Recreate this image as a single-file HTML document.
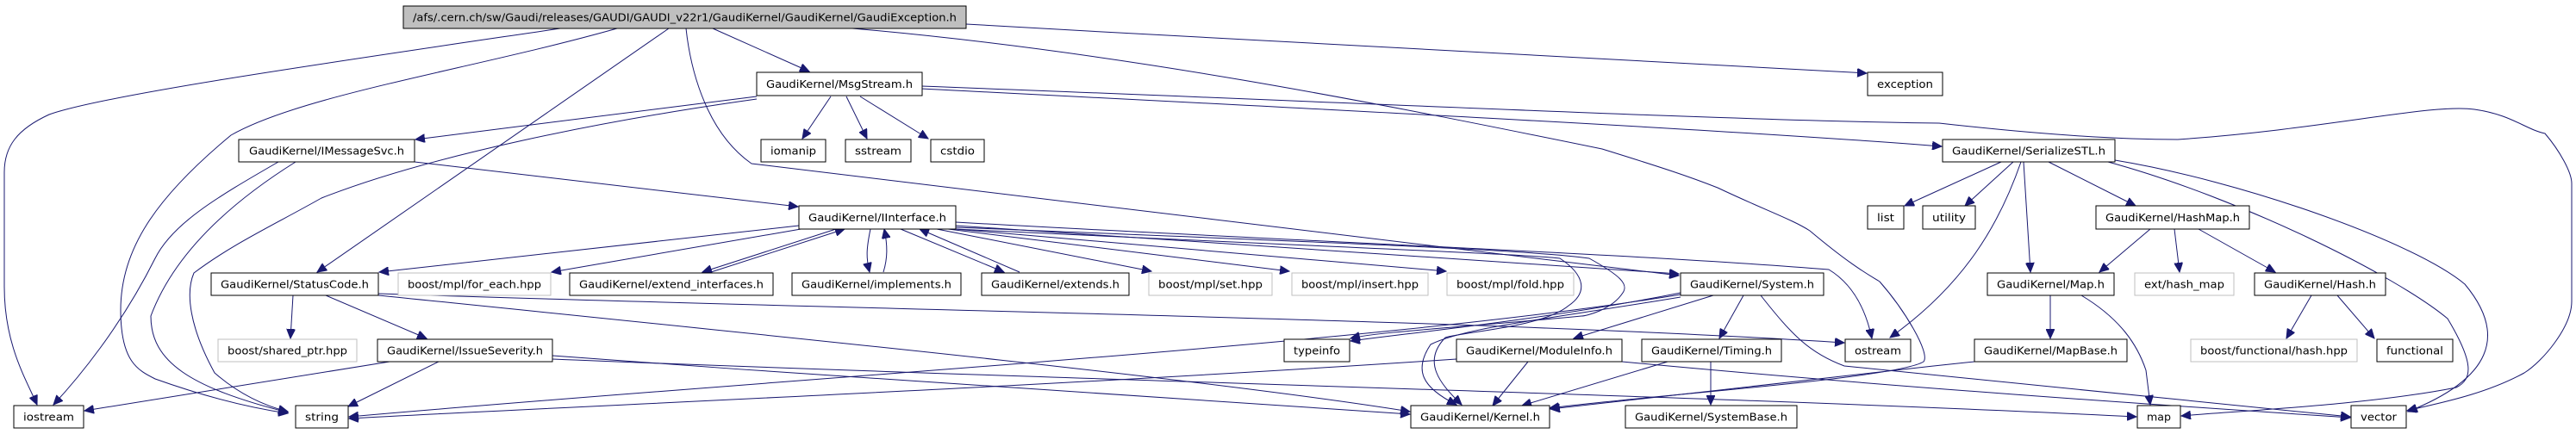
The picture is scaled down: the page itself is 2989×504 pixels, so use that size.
<!DOCTYPE html>
<html><head><meta charset="utf-8"><style>
html,body{margin:0;padding:0;background:#fff;}
svg{display:block;}
text{font-family:"DejaVu Sans","Liberation Sans",sans-serif;font-size:12px;fill:#000;}
.e{fill:none;stroke:#191970;stroke-width:1;}
.n{fill:#fff;stroke:#000;stroke-width:1;}
.g{fill:#fff;stroke:#bfbfbf;stroke-width:1;}
</style></head><body>
<svg width="2989" height="504" viewBox="0 0 2989 504" xmlns="http://www.w3.org/2000/svg">
<defs>
<marker id="a" markerUnits="userSpaceOnUse" markerWidth="12" markerHeight="10" refX="11" refY="5" orient="auto">
<path d="M0,0 L11,5 L0,10 Z" fill="#191970" stroke="#191970"/>
</marker>
</defs>
<g marker-end="url(#a)">
<!-- root edges -->
<path class="e" d="M650,33 C400,70 120,110 57,133 C20,150 5,170 5,200 L5,333 C5,400 30,440 43,470"/>
<path class="e" d="M716,33 C550,80 350,110 268,157 C180,230 140,290 140,360 C140,420 160,430 180,440 C250,465 300,475 334,480"/>
<path class="e" d="M776,33 L368,316"/>
<path class="e" d="M827,33 L939,83"/>
<path class="e" d="M796,33 C800,70 815,150 872,190 L1948,320"/>
<path class="e" d="M989,33 C1300,60 1600,120 1859,173 C1930,195 1960,205 1993,218 C2050,245 2080,255 2100,268 C2150,310 2170,320 2181,327 C2210,360 2240,410 2232,420 C2200,440 1900,460 1798,474"/>
<path class="e" d="M1121,28 C1500,50 1900,70 2166,85"/>
<!-- MsgStream -->
<path class="e" d="M878,112 L482,162"/>
<path class="e" d="M878,115 C700,140 500,180 373,230 C320,260 270,283 225,317 C215,340 220,380 249,433 C280,460 310,472 334,478"/>
<path class="e" d="M1069,100 C1600,120 2000,140 2250,143 C2400,160 2480,162 2527,162 C2700,150 2820,120 2871,127 C2914,133 2930,150 2953,155 C2970,175 2984,200 2984,213 L2984,350 C2984,380 2950,420 2929,433 C2880,460 2820,470 2793,477"/>
<path class="e" d="M1069,103 C1500,125 2000,150 2253,170"/>
<path class="e" d="M964,112 L931,161"/>
<path class="e" d="M982,112 L1006,161"/>
<path class="e" d="M998,112 L1077,161"/>
<!-- IMessageSvc -->
<path class="e" d="M481,188 L926,240"/>
<path class="e" d="M323,188 C250,230 200,260 180,300 C140,380 90,440 62,470"/>
<path class="e" d="M343,188 C260,240 200,300 175,367 C175,420 220,450 334,479"/>
<!-- IInterface -->
<path class="e" d="M927,262 L440,316"/>
<path class="e" d="M935,265 L640,316"/>
<path class="e" d="M970,266 L815,316"/>
<path class="e" d="M825,316 L980,266"/>
<path class="e" d="M1010,266 C1005,290 1005,300 1009,316"/>
<path class="e" d="M1025,316 C1030,300 1030,285 1026,266"/>
<path class="e" d="M1045,266 L1165,316"/>
<path class="e" d="M1183,316 L1067,266"/>
<path class="e" d="M1087,266 L1336,315"/>
<path class="e" d="M1100,266 L1496,315"/>
<path class="e" d="M1108,266 L1678,315"/>
<path class="e" d="M1109,262 L1948,318"/>
<path class="e" d="M1109,258 C1500,280 1900,295 2122,313 C2150,330 2165,360 2172,393"/>
<path class="e" d="M1109,264 C1500,280 1780,290 1844,300 C1880,320 1890,330 1883,340 C1870,360 1840,367 1835,367 C1700,380 1600,385 1567,393"/>
<path class="e" d="M1109,266 C1500,285 1770,295 1810,300 C1840,320 1842,340 1820,355 C1790,380 1700,385 1677,392 C1650,420 1670,445 1696,470"/>
<!-- StatusCode -->
<path class="e" d="M340,343 L337,393"/>
<path class="e" d="M378,343 L495,393"/>
<path class="e" d="M439,343 C900,390 1400,440 1636,478"/>
<path class="e" d="M439,341 C1000,360 1700,370 2140,398"/>
<!-- IssueSeverity -->
<path class="e" d="M452,420 L98,477"/>
<path class="e" d="M509,420 L404,472"/>
<path class="e" d="M641,413 C1000,440 1400,465 1636,481"/>
<path class="e" d="M641,417 C1200,440 2000,460 2479,484"/>
<!-- System -->
<path class="e" d="M1950,340 C1800,370 1650,385 1567,396"/>
<path class="e" d="M1988,343 L1826,393"/>
<path class="e" d="M2023,343 L1995,393"/>
<path class="e" d="M1950,342 C1600,400 900,440 405,484"/>
<path class="e" d="M1950,345 C1800,370 1700,380 1660,400 C1640,430 1650,450 1690,470"/>
<path class="e" d="M2043,343 C2080,390 2100,410 2140,425 C2400,450 2600,470 2727,484"/>
<!-- ModuleInfo -->
<path class="e" d="M1773,420 L1732,471"/>
<path class="e" d="M1690,417 C1200,450 700,470 405,486"/>
<path class="e" d="M1882,420 C2200,450 2500,470 2727,485"/>
<!-- Timing -->
<path class="e" d="M1985,420 L1985,470"/>
<path class="e" d="M1935,420 L1766,471"/>
<!-- SerializeSTL -->
<path class="e" d="M2322,188 L2210,239"/>
<path class="e" d="M2336,188 L2280,239"/>
<path class="e" d="M2345,188 C2320,260 2280,330 2193,392"/>
<path class="e" d="M2348,188 L2356,316"/>
<path class="e" d="M2377,188 L2478,239"/>
<path class="e" d="M2446,188 C2600,230 2780,320 2840,370 C2870,420 2870,440 2850,450 C2750,470 2600,477 2531,483"/>
<path class="e" d="M2454,186 C2600,210 2800,280 2860,330 C2910,390 2890,440 2794,478"/>
<!-- HashMap -->
<path class="e" d="M2495,266 L2436,316"/>
<path class="e" d="M2523,266 L2529,316"/>
<path class="e" d="M2551,266 L2640,316"/>
<!-- Map -->
<path class="e" d="M2379,343 L2379,393"/>
<path class="e" d="M2415,343 C2460,370 2480,400 2490,430 L2495,470"/>
<!-- Hash -->
<path class="e" d="M2682,343 L2653,393"/>
<path class="e" d="M2712,343 L2755,393"/>
<!-- MapBase -->
<path class="e" d="M2291,420 C2100,440 1900,465 1799,475"/>
</g>
<!-- nodes -->
<rect class="n" x="468" y="7" width="653" height="26" fill="#bfbfbf" style="fill:#bfbfbf"/><text x="794.5" y="24.5" text-anchor="middle" textLength="631" lengthAdjust="spacingAndGlyphs">/afs/.cern.ch/sw/Gaudi/releases/GAUDI/GAUDI_v22r1/GaudiKernel/GaudiKernel/GaudiException.h</text>
<rect class="n" x="878" y="84" width="192" height="27"/><text x="974" y="102" text-anchor="middle" textLength="170" lengthAdjust="spacingAndGlyphs">GaudiKernel/MsgStream.h</text>
<rect class="n" x="2167" y="84" width="87" height="27"/><text x="2210.5" y="102" text-anchor="middle" textLength="65" lengthAdjust="spacingAndGlyphs">exception</text>
<rect class="n" x="277" y="162" width="204" height="26"/><text x="379" y="179.5" text-anchor="middle" textLength="180" lengthAdjust="spacingAndGlyphs">GaudiKernel/IMessageSvc.h</text>
<rect class="n" x="883" y="162" width="75" height="26"/><text x="920.5" y="179.5" text-anchor="middle" textLength="53" lengthAdjust="spacingAndGlyphs">iomanip</text>
<rect class="n" x="981" y="162" width="76" height="26"/><text x="1019" y="179.5" text-anchor="middle" textLength="54" lengthAdjust="spacingAndGlyphs">sstream</text>
<rect class="n" x="1080" y="162" width="62" height="26"/><text x="1111" y="179.5" text-anchor="middle" textLength="40" lengthAdjust="spacingAndGlyphs">cstdio</text>
<rect class="n" x="2254" y="162" width="200" height="26"/><text x="2354" y="179.5" text-anchor="middle" textLength="178" lengthAdjust="spacingAndGlyphs">GaudiKernel/SerializeSTL.h</text>
<rect class="n" x="927" y="239" width="182" height="27"/><text x="1018" y="257" text-anchor="middle" textLength="160" lengthAdjust="spacingAndGlyphs">GaudiKernel/IInterface.h</text>
<rect class="n" x="2167" y="239" width="42" height="27"/><text x="2188" y="257" text-anchor="middle" textLength="20" lengthAdjust="spacingAndGlyphs">list</text>
<rect class="n" x="2231" y="239" width="61" height="27"/><text x="2261.5" y="257" text-anchor="middle" textLength="39" lengthAdjust="spacingAndGlyphs">utility</text>
<rect class="n" x="2432" y="239" width="178" height="27"/><text x="2521" y="257" text-anchor="middle" textLength="156" lengthAdjust="spacingAndGlyphs">GaudiKernel/HashMap.h</text>
<rect class="n" x="245" y="317" width="194" height="26"/><text x="342" y="334.5" text-anchor="middle" textLength="172" lengthAdjust="spacingAndGlyphs">GaudiKernel/StatusCode.h</text>
<rect class="g" x="462" y="317" width="177" height="26"/><text x="550.5" y="334.5" text-anchor="middle" textLength="155" lengthAdjust="spacingAndGlyphs">boost/mpl/for_each.hpp</text>
<rect class="n" x="661" y="317" width="236" height="26"/><text x="779" y="334.5" text-anchor="middle" textLength="214" lengthAdjust="spacingAndGlyphs">GaudiKernel/extend_interfaces.h</text>
<rect class="n" x="919" y="317" width="196" height="26"/><text x="1017" y="334.5" text-anchor="middle" textLength="174" lengthAdjust="spacingAndGlyphs">GaudiKernel/implements.h</text>
<rect class="n" x="1139" y="317" width="171" height="26"/><text x="1224.5" y="334.5" text-anchor="middle" textLength="149" lengthAdjust="spacingAndGlyphs">GaudiKernel/extends.h</text>
<rect class="g" x="1333" y="317" width="143" height="26"/><text x="1404.5" y="334.5" text-anchor="middle" textLength="121" lengthAdjust="spacingAndGlyphs">boost/mpl/set.hpp</text>
<rect class="g" x="1499" y="317" width="158" height="26"/><text x="1578" y="334.5" text-anchor="middle" textLength="136" lengthAdjust="spacingAndGlyphs">boost/mpl/insert.hpp</text>
<rect class="g" x="1679" y="317" width="147" height="26"/><text x="1752.5" y="334.5" text-anchor="middle" textLength="125" lengthAdjust="spacingAndGlyphs">boost/mpl/fold.hpp</text>
<rect class="n" x="1950" y="317" width="166" height="26"/><text x="2033" y="334.5" text-anchor="middle" textLength="144" lengthAdjust="spacingAndGlyphs">GaudiKernel/System.h</text>
<rect class="n" x="2306" y="317" width="147" height="26"/><text x="2379.5" y="334.5" text-anchor="middle" textLength="125" lengthAdjust="spacingAndGlyphs">GaudiKernel/Map.h</text>
<rect class="g" x="2477" y="317" width="115" height="26"/><text x="2534.5" y="334.5" text-anchor="middle" textLength="93" lengthAdjust="spacingAndGlyphs">ext/hash_map</text>
<rect class="n" x="2616" y="317" width="152" height="26"/><text x="2692" y="334.5" text-anchor="middle" textLength="130" lengthAdjust="spacingAndGlyphs">GaudiKernel/Hash.h</text>
<rect class="g" x="253" y="394" width="161" height="26"/><text x="333.5" y="411.5" text-anchor="middle" textLength="139" lengthAdjust="spacingAndGlyphs">boost/shared_ptr.hpp</text>
<rect class="n" x="438" y="394" width="203" height="26"/><text x="539.5" y="411.5" text-anchor="middle" textLength="181" lengthAdjust="spacingAndGlyphs">GaudiKernel/IssueSeverity.h</text>
<rect class="n" x="1490" y="394" width="76" height="26"/><text x="1528" y="411.5" text-anchor="middle" textLength="54" lengthAdjust="spacingAndGlyphs">typeinfo</text>
<rect class="n" x="1690" y="394" width="192" height="26"/><text x="1786" y="411.5" text-anchor="middle" textLength="170" lengthAdjust="spacingAndGlyphs">GaudiKernel/ModuleInfo.h</text>
<rect class="n" x="1905" y="394" width="162" height="26"/><text x="1986" y="411.5" text-anchor="middle" textLength="140" lengthAdjust="spacingAndGlyphs">GaudiKernel/Timing.h</text>
<rect class="n" x="2141" y="394" width="76" height="26"/><text x="2179" y="411.5" text-anchor="middle" textLength="54" lengthAdjust="spacingAndGlyphs">ostream</text>
<rect class="n" x="2291" y="394" width="177" height="26"/><text x="2379.5" y="411.5" text-anchor="middle" textLength="155" lengthAdjust="spacingAndGlyphs">GaudiKernel/MapBase.h</text>
<rect class="g" x="2542" y="394" width="193" height="26"/><text x="2638.5" y="411.5" text-anchor="middle" textLength="171" lengthAdjust="spacingAndGlyphs">boost/functional/hash.hpp</text>
<rect class="n" x="2758" y="394" width="88" height="26"/><text x="2802" y="411.5" text-anchor="middle" textLength="66" lengthAdjust="spacingAndGlyphs">functional</text>
<rect class="n" x="16" y="471" width="81" height="26"/><text x="56.5" y="488.5" text-anchor="middle" textLength="59" lengthAdjust="spacingAndGlyphs">iostream</text>
<rect class="n" x="343" y="471" width="61" height="26"/><text x="373.5" y="488.5" text-anchor="middle" textLength="39" lengthAdjust="spacingAndGlyphs">string</text>
<rect class="n" x="1637" y="471" width="161" height="26"/><text x="1717.5" y="488.5" text-anchor="middle" textLength="139" lengthAdjust="spacingAndGlyphs">GaudiKernel/Kernel.h</text>
<rect class="n" x="1886" y="471" width="199" height="26"/><text x="1985.5" y="488.5" text-anchor="middle" textLength="177" lengthAdjust="spacingAndGlyphs">GaudiKernel/SystemBase.h</text>
<rect class="n" x="2480" y="471" width="50" height="26"/><text x="2505" y="488.5" text-anchor="middle" textLength="28" lengthAdjust="spacingAndGlyphs">map</text>
<rect class="n" x="2728" y="471" width="64" height="26"/><text x="2760" y="488.5" text-anchor="middle" textLength="42" lengthAdjust="spacingAndGlyphs">vector</text>
</svg>
</body></html>
